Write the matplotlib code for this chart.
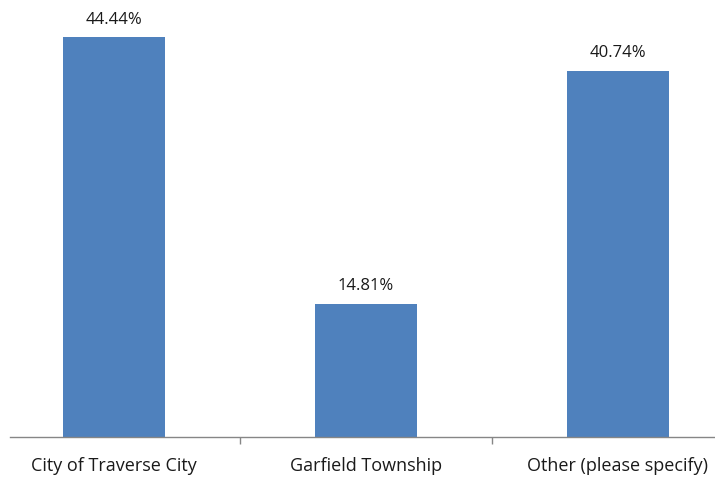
import numpy as np
import matplotlib.pyplot as plt

# Survey responses
categories = ['City of Traverse City', 'Garfield Township', 'Other (please specify)']
percents = [44.44, 14.81, 40.74]
value_labels = ['44.44%', '14.81%', '40.74%']

plt.rcParams['font.family'] = ['Open Sans', 'DejaVu Sans']

fig = plt.figure(figsize=(7.15, 4.8), dpi=100)
# axes placed so the category band is partly cropped, like the original export
ax = fig.add_axes([10 / 715, 43.5 / 480, 705 / 715, 431 / 480])

x = np.arange(len(categories))
ax.bar(x, percents, width=0.405, color='#4F81BD', zorder=2)

for xi, v, lab in zip(x, percents, value_labels):
    ax.text(xi, v + 1.1, lab, ha='center', va='bottom', fontsize=12, color='#1a1a1a')

ax.set_xlim(-0.413, 2.385)
ax.set_ylim(0, 48)

for s in ['top', 'right', 'left']:
    ax.spines[s].set_visible(False)
ax.spines['bottom'].set_color('#868686')
ax.spines['bottom'].set_linewidth(1)

ax.set_yticks([])
ax.set_xticks(x)
ax.set_xticklabels(categories, fontsize=13, color='#1a1a1a')
ax.tick_params(axis='x', which='major', length=0, pad=15)
ax.set_xticks([0.5, 1.5], minor=True)
ax.tick_params(axis='x', which='minor', length=5, color='#868686', width=1)

fig.savefig('out.png', dpi=100)
